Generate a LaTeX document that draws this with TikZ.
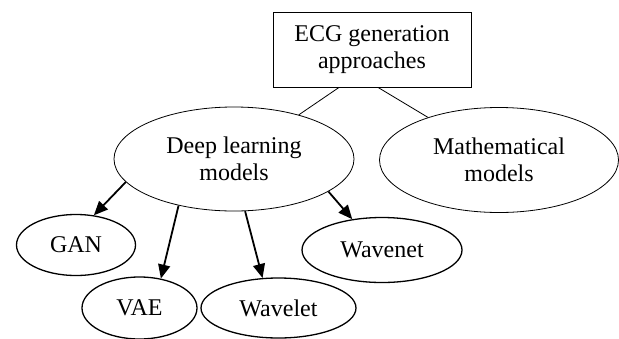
\documentclass[tikz,border=0pt]{standalone}
\usepackage{fontspec}
\setmainfont{Liberation Serif}
\usepackage{tikz}
\usetikzlibrary{shapes,arrows.meta,positioning}
\tikzset{>={Triangle[length=14pt,width=12pt]}}

\begin{document}
\begin{tikzpicture}[x=1pt, y=-1pt,
                          every node/.style={font=\rmfamily\fontsize{24}{27}\selectfont, align=center, inner sep=0pt},
                          topbox/.style={draw, line width=0.8pt, rectangle, minimum width=198pt, minimum height=75pt},
                          model/.style={draw, line width=0.8pt, ellipse},
                          leaf/.style={draw, line width=1.3pt, ellipse},
                          myline/.style={line width=0.8pt, black},
                          myarrow/.style={line width=1.8pt, black, ->},
                         ]

\useasboundingbox (0,0) rectangle (619,338);

\node[topbox] (root) at (372,49.5) {ECG generation\\approaches};

\node[model, minimum width=240pt, minimum height=104pt] (deep) at (234,159) {Deep learning\\models};
\node[model, minimum width=239pt, minimum height=105pt] (math) at (499,160) {Mathematical\\models};

\node[leaf, minimum width=119pt, minimum height=61pt] (gan) at (76,245) {GAN};
\node[leaf, minimum width=115pt, minimum height=62pt] (vae) at (139.5,308) {VAE};
\node[leaf, minimum width=155pt, minimum height=60pt] (wavelet) at (278.5,308) {Wavelet};
\node[leaf, minimum width=160pt, minimum height=65pt] (wavenet) at (382,250) {Wavenet};

\draw[myline] (root.229) -- (deep);
\draw[myline] (root.279) -- (math);

\draw[myarrow] (deep.192) -- (gan.59);
\draw[myarrow] (deep.220) -- (vae.54);
\draw[myarrow] (deep.282) -- (wavelet.118);
\draw[myarrow] (deep.341) -- (wavenet.134);

\end{tikzpicture}
\end{document}
